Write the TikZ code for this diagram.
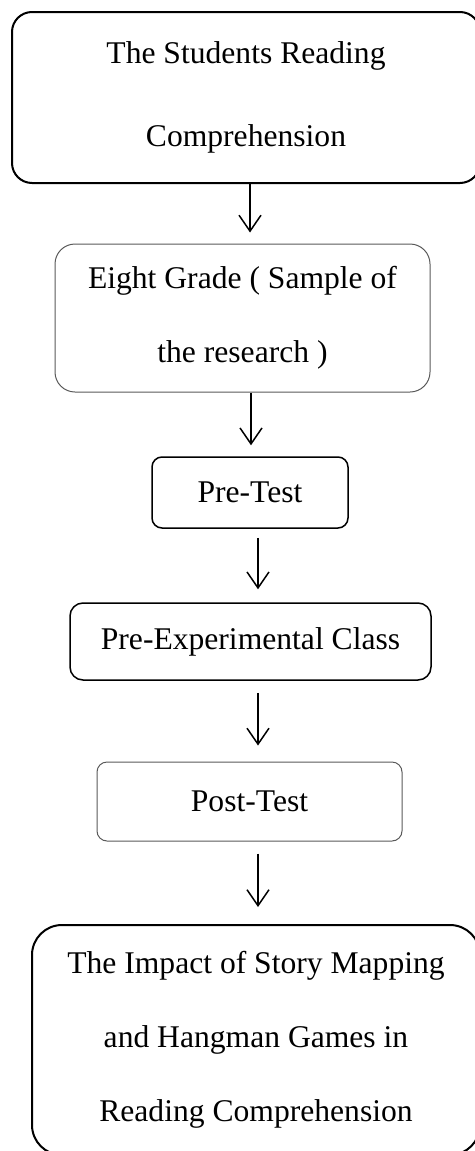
\documentclass[tikz,border=0pt]{standalone}
\usepackage{fontspec}
\setmainfont{Liberation Serif}
\usetikzlibrary{arrows.meta,positioning}
\tikzset{
  flowBox/.style={draw,rounded corners=#1,inner sep=0pt,align=center,
      font=\fontsize{15.8}{37}\selectfont},
  heavyBox/.style={flowBox=#1,line width=1pt},
  plainBox/.style={flowBox=#1,line width=0.75pt},
  lightBox/.style={flowBox=#1,draw=black!65,line width=0.5pt},
  flowArrow/.style={line width=0.75pt,-{Straight Barb[length=8pt,width=11pt,line width=0.75pt]}},
}

\begin{document}
\begin{tikzpicture}[x=0.5pt,y=-0.5pt]
  \useasboundingbox (0,0) rectangle (475,1151);

  \node[heavyBox=10pt,minimum width=234pt,minimum height=85.5pt,
      font=\fontsize{15.8}{41.5}\selectfont] at (246,97.5) (title)
      {The Students Reading\\Comprehension};
  \node[lightBox=10pt,minimum width=187.5pt,minimum height=74pt] at (242.5,318) (grade)
      {Eight Grade ( Sample of\\the research )};
  \node[plainBox=5pt,minimum width=98pt,minimum height=35.5pt] at (250,492.5) (pretest) {Pre-Test};
  \node[plainBox=6.5pt,minimum width=180.5pt,minimum height=38.5pt] at (250.5,641.5) (treat)
      {Pre-Experimental Class};
  \node[lightBox=5pt,minimum width=152.5pt,minimum height=39.5pt] at (249.5,801.5) (posttest) {Post-Test};
  \node[heavyBox=15pt,minimum width=224pt,minimum height=115pt] at (256,1040) (impact)
      {The Impact of Story Mapping\\and Hangman Games in\\Reading Comprehension};

  \draw[flowArrow,shorten >=5.5pt] ([xshift=2pt]title.south) -- ([xshift=2pt]title.south |- grade.north);
  \draw[flowArrow,shorten >=5.5pt] ([xshift=4.25pt]grade.south) -- ([xshift=4.25pt]grade.south |- pretest.north);
  \draw[flowArrow,shorten <=4.5pt,shorten >=6.5pt] ([xshift=4pt]pretest.south) -- ([xshift=4pt]pretest.south |- treat.north);
  \draw[flowArrow,shorten <=6pt,shorten >=8pt] ([xshift=3.75pt]treat.south) -- ([xshift=3.75pt]treat.south |- posttest.north);
  \draw[flowArrow,shorten <=6pt,shorten >=8.5pt] ([xshift=4.25pt]posttest.south) -- ([xshift=4.25pt]posttest.south |- impact.north);
\end{tikzpicture}
\end{document}
